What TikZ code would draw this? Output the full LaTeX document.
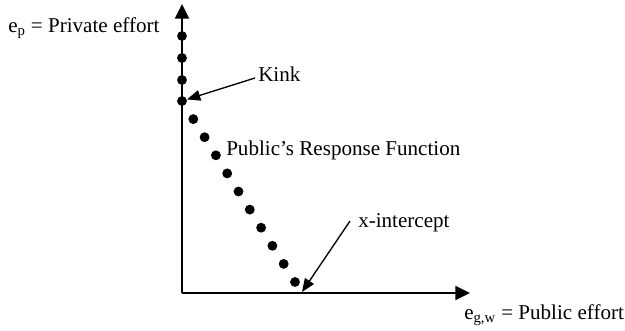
\documentclass[tikz,border=0pt]{standalone}
\usepackage{fontspec}
\setmainfont{Liberation Serif}
\usetikzlibrary{arrows.meta,positioning}

\begin{document}
\begin{tikzpicture}[x=0.75pt,y=-0.75pt,
    font=\fontsize{15.8}{18}\selectfont,
    dot/.style={circle,fill,inner sep=0pt,minimum size=7.4pt},
    axis/.style={line width=1.4pt,-{Triangle[length=11pt,width=10.5pt]}},
    pointer/.style={line width=1pt,-{Triangle[length=10pt,width=8pt]}},
    lbl/.style={inner sep=0pt,anchor=base west}]
  \useasboundingbox (0,0) rectangle (625,331);
  \coordinate (o) at (182,293);
  \coordinate (ytip) at (182,4);
  \coordinate (xtip) at (470,293);
  \draw[axis] (o) -- (ytip);
  \draw[axis] (o) -- (xtip);
  % response function
  \foreach \y [count=\i] in {36,58,80} \node[dot] (v\i) at (182,\y) {};
  \foreach \k in {0,...,10} \node[dot] (d\k) at (182+11.3*\k,101+18.1*\k) {};
  % labels
  \node[lbl] (ylab) at (8,33) {e\textsubscript{p} = Private effort};
  \node[lbl] (xlab) at (464,320) {e\textsubscript{g,w} = Public effort};
  \node[lbl] (kink) at (258,82) {Kink};
  \node[lbl] (prf) at (226,156) {Public’s Response Function};
  \node[lbl] (xint) at (358,228) {x-intercept};
  \coordinate (kt) at (255,78);
  \coordinate (xt) at (350,221);
  \draw[pointer] (kt) -- (d0);
  \draw[pointer] (xt) -- (302,292);
\end{tikzpicture}
\end{document}
